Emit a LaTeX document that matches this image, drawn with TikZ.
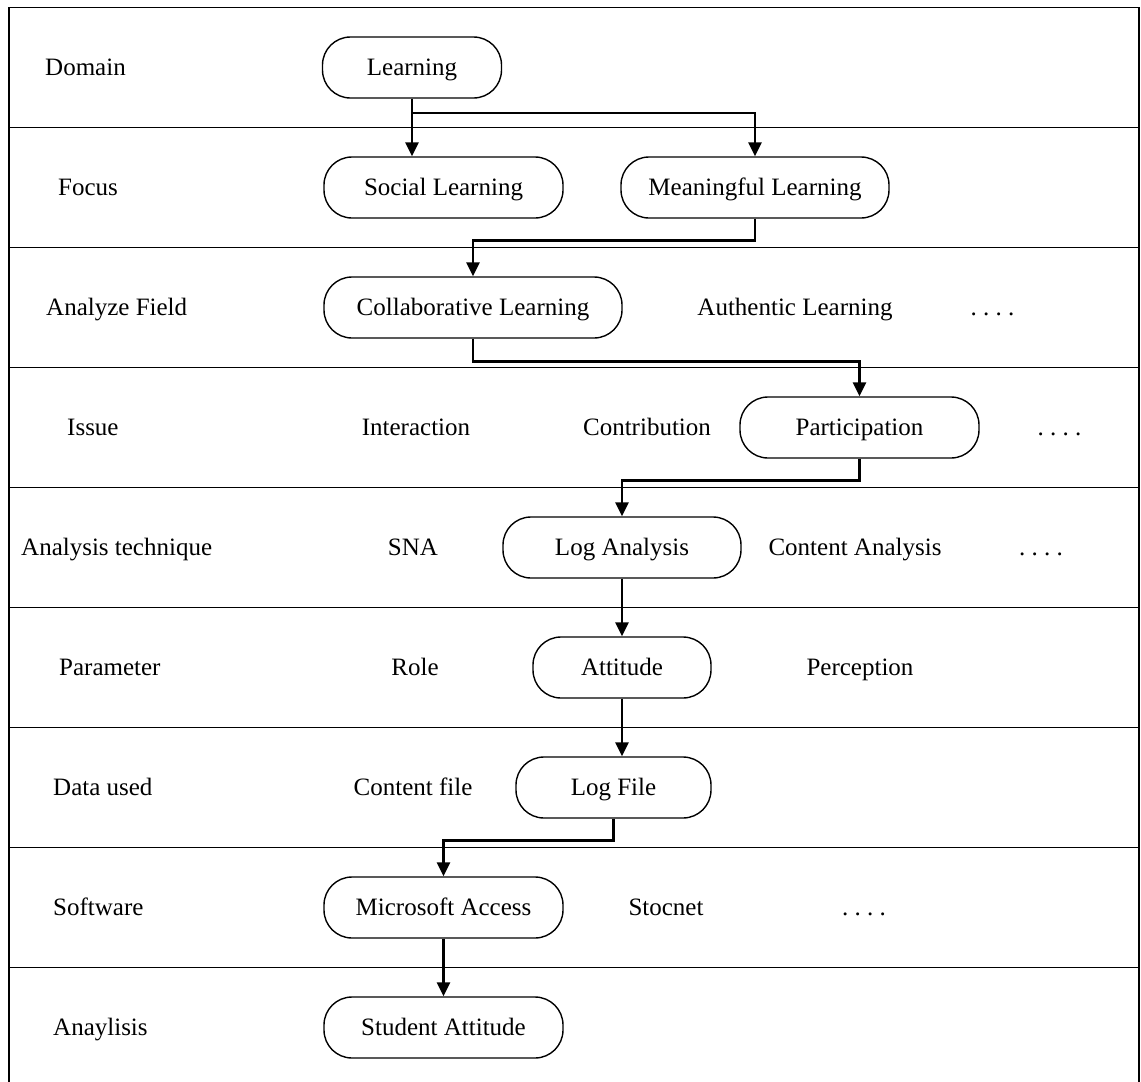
\documentclass[tikz,border=0pt]{standalone}
\usepackage{fontspec}
\setmainfont{Liberation Serif}
\usetikzlibrary{arrows.meta}
\tikzset{
  box/.style={draw, line width=1.4pt, rounded corners=28pt, minimum height=61pt,
    text height=20pt, text depth=4pt, inner sep=0pt},
  txt/.style={inner sep=0pt, text height=20pt, text depth=4pt},
  lbl/.style={txt, anchor=west},
  arr/.style={line width=2.6pt, -{Triangle[width=13pt,length=14pt]}},
  frame/.style={line width=1.6pt}
}
\begin{document}
\begin{tikzpicture}[x=1pt,y=-1pt,font=\fontsize{25}{30}\selectfont]
\useasboundingbox (0,0) rectangle (1141,1082);
\clip (0,0) rectangle (1141,1082);
\fill[white] (0,0) rectangle (1141,1082);
% frame and row lines
\draw[frame] (9,7.5) rectangle (1139,1087.5);
\foreach \yy in {127.5,247.5,367.5,487.5,607.5,727.5,847.5,967.5}
  \draw[frame] (9,\yy) -- (1139,\yy);
% row labels
\node[lbl] (lDomain) at (45,67.5) {Domain};
\node[lbl] (lFocus) at (58,187.5) {Focus};
\node[lbl] (lField) at (46,307.5) {Analyze Field};
\node[lbl] (lIssue) at (67,427.5) {Issue};
\node[lbl] (lTech) at (21,547.5) {Analysis technique};
\node[lbl] (lParam) at (59,667.5) {Parameter};
\node[lbl] (lData) at (53,787.5) {Data used};
\node[lbl] (lSoft) at (53,907.5) {Software};
\node[lbl] (lAna) at (53,1027.5) {Anaylisis};
% boxes
\node[box, minimum width=179pt] (Learning) at (412,67.5) {Learning};
\node[box, minimum width=239pt] (Social) at (443.5,187.5) {Social Learning};
\node[box, minimum width=268pt] (Meaningful) at (755,187.5) {Meaningful Learning};
\node[box, minimum width=298pt] (Collab) at (473,307.5) {Collaborative Learning};
\node[box, minimum width=239pt] (Partic) at (859.5,427.5) {Participation};
\node[box, minimum width=238pt] (LogAn) at (622,547.5) {Log Analysis};
\node[box, minimum width=178pt] (Attitude) at (622,667.5) {Attitude};
\node[box, minimum width=195pt] (LogFile) at (613.5,787.5) {Log File};
\node[box, minimum width=239pt] (Access) at (443.5,907.5) {Microsoft Access};
\node[box, minimum width=239pt] (Student) at (443.5,1027.5) {Student Attitude};
% other texts
\node[txt] (Authentic) at (795,307.5) {Authentic Learning};
\node[txt] (d3) at (992.5,307.5) {.\ .\ .\ .};
\node[txt] (Interaction) at (416,427.5) {Interaction};
\node[txt] (Contribution) at (647,427.5) {Contribution};
\node[txt] (d4) at (1059.5,427.5) {.\ .\ .\ .};
\node[txt] (SNA) at (413,547.5) {SNA};
\node[txt] (ContentAn) at (855,547.5) {Content Analysis};
\node[txt] (d5) at (1041,547.5) {.\ .\ .\ .};
\node[txt] (Role) at (415,667.5) {Role};
\node[txt] (Perception) at (860,667.5) {Perception};
\node[txt] (ContentFile) at (413,787.5) {Content file};
\node[txt] (Stocnet) at (666,907.5) {Stocnet};
\node[txt] (d8) at (864,907.5) {.\ .\ .\ .};
% connectors
\coordinate (b1) at (412,113);
\draw[arr] (Learning.south) -- (Learning.south |- Social.north);
\draw[arr] (b1) -| (Meaningful.north);
\draw[arr] (Meaningful.south) -- ++(0,22) -| (Collab.north);
\draw[arr] (Collab.south) -- ++(0,23) -| (Partic.north);
\draw[arr] (Partic.south) -- ++(0,22) -| (LogAn.north);
\draw[arr] (LogAn.south) -- (Attitude.north);
\draw[arr] (Attitude.south) -- (Attitude.south |- LogFile.north);
\draw[arr] (LogFile.south) -- ++(0,22) -| (Access.north);
\draw[arr] (Access.south) -- (Student.north);
\end{tikzpicture}
\end{document}
